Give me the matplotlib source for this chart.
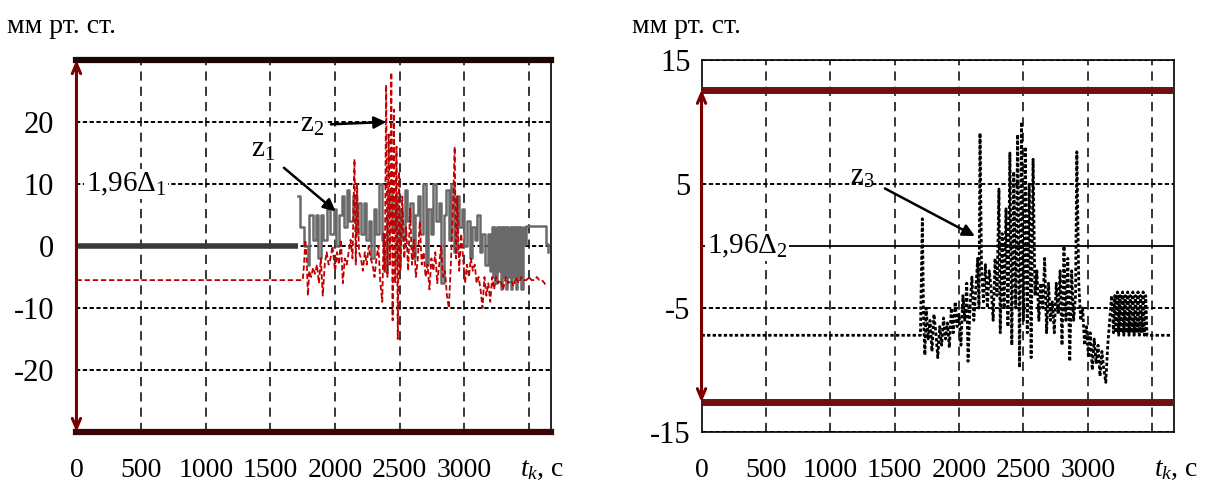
import matplotlib
matplotlib.use("Agg")
import matplotlib.pyplot as plt
import numpy as np

plt.rcParams['font.family'] = ['Liberation Serif', 'DejaVu Serif']
plt.rcParams['mathtext.fontset'] = 'custom'
plt.rcParams['mathtext.rm'] = 'Liberation Serif'
plt.rcParams['mathtext.it'] = 'Liberation Serif:italic'

# --- данные, левый график (z1 - ступенчатый серый, z2 - красный пунктир) ---
z1_t = [0, 1710, 1730, 1760, 1790, 1800, 1830, 1850, 1870, 1890, 1910, 1940, 1960, 1990,
        2010, 2030, 2050, 2070, 2090, 2110, 2140, 2160, 2180, 2200, 2220, 2240, 2260,
        2280, 2300, 2320, 2340, 2360, 2380, 2400, 2420, 2440, 2460, 2480, 2500, 2520,
        2540, 2560, 2580, 2600, 2620, 2640, 2660, 2680, 2700, 2720, 2740, 2760, 2780,
        2800, 2820, 2840, 2860, 2880, 2900, 2920, 2940, 2960, 2980, 3000, 3020, 3040,
        3060, 3080, 3100, 3120, 3140, 3160, 3180, 3200,
        3210, 3220, 3230, 3240, 3250, 3260, 3270, 3280, 3290, 3300, 3310, 3320, 3330,
        3340, 3350, 3360, 3370, 3380, 3390, 3400, 3410, 3420, 3430, 3440, 3450,
        3460, 3475, 3630, 3645]
z1_v = [0, 8, 3, 0, -3, 5, 1, 5, -2, 5, 1, 6, 2, 6,
        0, 5, 8, 3, 9, 4, 8, 2, 7, 2, 7, 1, 4,
        -2, 6, 2, 10, 1, -4, 5, 9, 3, 8, -3, 6, 1,
        9, 4, 7, -2, 5, 8, 2, 10, -3, 6, 2, 10, 4,
        7, -6, 5, 9, 1, 10, -1, 8, 3, 6, 0, 4, -2,
        3, 1, 5, -1, 2, -3, 2, -4,
        3, -5, 3, -6, 3, -4, 3, -7, 3, -5, 3, -7, 3,
        -5, 3, -7, 3, -5, 3, -7, 3, -5, 3, -7, 3,
        0.3, 3.2, 0.3, -1]

z2_t = [0, 1750, 1760, 1770, 1780, 1790, 1800, 1815, 1830, 1845, 1860, 1875, 1890, 1905,
        1920, 1935, 1950, 1965, 1980, 2000, 2015, 2030, 2045, 2060, 2075, 2090, 2105,
        2120, 2135, 2150, 2160, 2170, 2185, 2200, 2215, 2230, 2245, 2260, 2275, 2290,
        2305, 2320, 2335, 2350, 2365, 2375, 2385, 2395, 2405, 2415, 2425, 2435, 2445,
        2455, 2465, 2475, 2485, 2495, 2505, 2520, 2535, 2550, 2565, 2580, 2595, 2610,
        2625, 2640, 2655, 2670, 2685, 2700, 2715, 2730, 2745, 2760, 2775, 2790, 2805,
        2820, 2835, 2850, 2865, 2880, 2895, 2910, 2925, 2935, 2945, 2960, 2975, 2990,
        3005, 3020, 3035, 3050, 3065, 3080, 3095, 3110, 3125, 3140, 3155, 3170, 3185,
        3200, 3215, 3230, 3245, 3260, 3280, 3300, 3320, 3340, 3360, 3380, 3400, 3420,
        3440, 3460, 3480, 3500, 3520, 3540, 3560, 3580, 3600, 3620, 3635]
z2_v = [-5.5, -5.5, -3, 1, -2, -8, -4, -5, -3.5, -4.5, -3, -6, -2, -8,
        -3, -1, -3, -2, 0, -4, -1, -3, 1, -6, -2, -3, -1,
        1, -2, 14, -3, 10, -1, -2, -4, -1, -3, 0, -2, -3,
        -5, -2, 0, -6, -9, 2, -4, 26, -5, 18, -3, 28, -12,
        22, -6, 16, -15, 12, -4, 8, -2, 3, -4, 6, -3, 1,
        -5, -2, 4, -3, -1, -5, -3, -7, -2, -4, -1, -6, -3,
        0, -5, -4, -8, -10, -3, 5, 16, -2, 8, -4, 2, -2,
        -6, -3, -5, -2, -4, -3, -6, -5, -7, -10, -5, -8, -6,
        -9, -5, -7, -5, -6, -5.5, -7, -5, -6, -5.5, -6.5, -5, -6,
        -5, -5.5, -5.5, -5, -5.5, -5.5, -5, -5.5, -5.5, -6, -6.5]

# --- данные, правый график (z3 - черный пунктир) ---
z3_t = [0, 1700, 1715, 1725, 1735, 1745, 1760, 1775, 1790, 1805, 1820, 1835, 1850, 1865,
        1880, 1895, 1910, 1925, 1940, 1955, 1970, 1985, 2000, 2015, 2030, 2045, 2060,
        2070, 2085, 2100, 2115, 2130, 2145, 2155, 2163, 2175, 2190, 2205, 2220, 2235,
        2250, 2265, 2280, 2295, 2310, 2320, 2335, 2350, 2365, 2380, 2395, 2410, 2425,
        2440, 2455, 2470, 2485, 2500, 2515, 2530, 2545, 2560, 2575, 2590, 2605, 2620,
        2635, 2650, 2665, 2680, 2695, 2710, 2725, 2740, 2755, 2770, 2785, 2800, 2815,
        2830, 2845, 2860, 2875, 2890, 2905, 2915, 2930, 2945, 2960, 2975, 2990, 3005,
        3020, 3035, 3050, 3065, 3080, 3095, 3110, 3125, 3140, 3155, 3170, 3185,
        3200, 3210, 3220, 3230, 3240, 3250, 3260, 3270, 3280, 3290, 3300, 3310, 3320,
        3330, 3340, 3350, 3360, 3370, 3380, 3390, 3400, 3410, 3420, 3430, 3440, 3450,
        3460, 3470, 3650]
z3_v = [-7.2, -7.2, 2.2, -6, -8.8, -5, -7.5, -6, -8.5, -5.5, -7, -9, -6.5, -8,
        -5.8, -7.5, -6.2, -8.2, -5, -7, -4.5, -6.5, -5.5, -8, -4, -6, -3,
        -9.3, -5, -2.5, -6, -3.5, -1, -5, 9.1, -2, -4.5, -1.5, -5, -2,
        -3.5, -6, -1, -4, 4.6, -7, 1, -5, 3, -6.5, 7.5, -8, 6,
        -5, 9, -9.8, 10, -6, 8, -7, 5, -9, 7, -4, -2, -6,
        -3, -5, -1, -7, -3, -6, -4.5, -7, -3, -5.5, -2, -8, 0,
        -6, -1, -9.3, -2, -6, -4, 7.6, -3, -6, -5, -8, -6.5, -9,
        -7, -10, -7.5, -9.5, -8, -10.5, -8.5, -10, -11, -8, -6, -4,
        -7, -4, -7, -3.7, -7.2, -4, -7, -3.7, -7.2, -4, -7, -3.7, -7.2,
        -4, -7, -3.7, -7.2, -4, -7, -3.7, -7.2, -4, -7, -3.7, -7.2, -4,
        -7.2, -7.2, -7.2]

x_ticks = [0, 500, 1000, 1500, 2000, 2500, 3000]
x_grid = [500, 1000, 1500, 2000, 2500, 3000, 3500]
left_yticks = [-20, -10, 0, 10, 20]
right_yticks = [-15, -5, 5, 15]
bound1 = 30      # 1,96*Delta1
bound2 = 12.6    # 1,96*Delta2
x_max = 3670

fig = plt.figure(figsize=(12.06, 4.93), dpi=100)
ax1 = fig.add_axes([0.0634, 0.1237, 0.3935, 0.7546])
ax2 = fig.add_axes([0.5817, 0.1237, 0.3918, 0.7546])

def oformlenie(ax, yticks, ylim, ypad, tk_x, lab_x):
    ax.set_xlim(0, x_max)
    ax.set_ylim(*ylim)
    ax.set_xticks(x_ticks)
    ax.set_xticklabels([str(v) for v in x_ticks], fontsize=20)
    ax.set_yticks(yticks)
    ax.set_yticklabels([str(v) for v in yticks], fontsize=22)
    ax.tick_params(axis='x', length=0, pad=19)
    ax.tick_params(axis='y', length=0, pad=ypad)
    for v in x_grid:
        ax.axvline(v, color='black', lw=1.1, ls=(0, (6, 4)), zorder=1)
    for v in yticks:
        ax.axhline(v, color='black', lw=1.4, ls=(0, (2.2, 1.3)), zorder=1)
    ax.text(tk_x, -0.1, r"$t_k$, c", transform=ax.get_xaxis_transform(),
            ha='center', va='center', fontsize=20, clip_on=False)
    ax.text(lab_x, 1.09, "мм рт. ст.", transform=ax.transAxes,
            ha='left', va='center', fontsize=20)

# ---------- левый график ----------
oformlenie(ax1, left_yticks, (-bound1, bound1), 16, 3600, -0.147)
for s in ['top', 'bottom', 'left']:
    ax1.spines[s].set_visible(False)
ax1.spines['right'].set_linewidth(1.2)

t1 = np.array(z1_t)
v1 = np.array(z1_v)
ax1.plot(t1[:2], [v1[0], v1[0]], color='#3a3a3a', lw=4, zorder=3, solid_capstyle='butt')
ax1.plot(t1[1:], v1[1:], drawstyle='steps-post', color='#6a6a6a', lw=1.8, zorder=3)
ax1.plot(z2_t, z2_v, color='#c00000', lw=1.3, ls=(0, (3, 1.5)), zorder=4)

ax1.axhline(bound1, color='#1e0505', lw=4.5, zorder=5, clip_on=False)
ax1.axhline(-bound1, color='#3a0505', lw=4.5, zorder=5, clip_on=False)
ax1.annotate('', xy=(0, -bound1), xytext=(0, bound1),
             arrowprops=dict(arrowstyle='<->, head_length=0.7, head_width=0.3',
                             color='#7a0000', lw=2.2, shrinkA=0, shrinkB=0),
             annotation_clip=False, zorder=6)
ax1.text(70, 10, "1,96Δ$_1$", fontsize=21, ha='left', va='center',
         bbox=dict(facecolor='white', edgecolor='none', pad=1), zorder=4)
ax1.annotate("z$_1$", xy=(2004, 5.6), xytext=(1440, 15.5), fontsize=21,
             ha='center', va='center',
             arrowprops=dict(arrowstyle='-|>', color='black', lw=1.8, shrinkA=6, shrinkB=0,
                             mutation_scale=18), zorder=7)
ax1.annotate("z$_2$", xy=(2395, 20), xytext=(1820, 19.5), fontsize=21,
             ha='center', va='center',
             bbox=dict(facecolor='white', edgecolor='none', pad=1),
             arrowprops=dict(arrowstyle='-|>', color='black', lw=1.8, shrinkA=4, shrinkB=0,
                             mutation_scale=18), zorder=7)

# ---------- правый график ----------
oformlenie(ax2, right_yticks, (-15, 15), 8, 3690, -0.147)
for s in ax2.spines.values():
    s.set_linewidth(1.2)
ax2.axhline(0, color='black', lw=1.3, zorder=2)
ax2.plot(z3_t, z3_v, color='black', lw=2.0, ls=(0, (1.2, 0.8)), zorder=3)
ax2.axhline(bound2, color='#6e1010', lw=5, zorder=5)
ax2.axhline(-bound2, color='#6e1010', lw=5, zorder=5)
ax2.annotate('', xy=(0, -bound2), xytext=(0, bound2),
             arrowprops=dict(arrowstyle='<->, head_length=0.7, head_width=0.3',
                             color='#7a0000', lw=2.2, shrinkA=0, shrinkB=0),
             annotation_clip=False, zorder=6)
ax2.text(40, 0, "1,96Δ$_2$", fontsize=21, ha='left', va='center',
         bbox=dict(facecolor='white', edgecolor='none', pad=1), zorder=4)
ax2.annotate("z$_3$", xy=(2123, 0.8), xytext=(1250, 5.6), fontsize=21,
             ha='center', va='center',
             arrowprops=dict(arrowstyle='-|>', color='black', lw=1.8, shrinkA=6, shrinkB=0,
                             mutation_scale=18), zorder=7)

fig.savefig("out.png", dpi=100)
